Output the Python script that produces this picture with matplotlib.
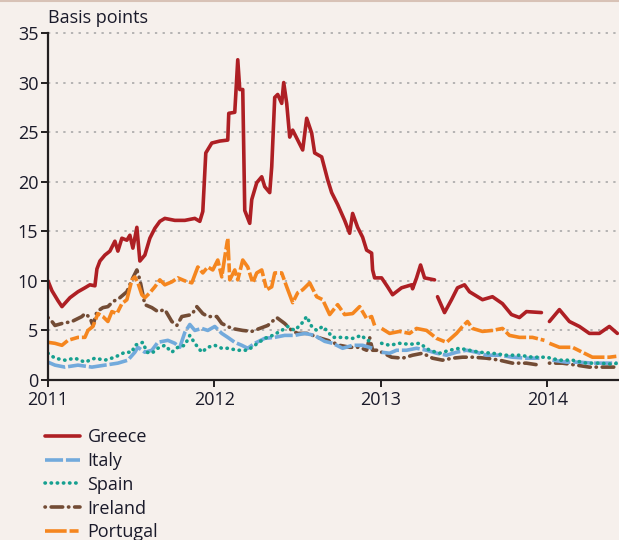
import numpy as np
import matplotlib
matplotlib.use('Agg')
import matplotlib.pyplot as plt
from matplotlib.lines import Line2D

plt.rcParams['font.family'] = ['Open Sans', 'DejaVu Sans']

# years since start of 2011; nan marks a break in the series
base_year = 2011
nan = np.nan

greece_t = [0.000, 0.024, 0.060, 0.084, 0.132, 0.180, 0.222, 0.252, 0.282, 0.294,
            0.312, 0.342, 0.372, 0.402, 0.420, 0.444, 0.474, 0.492, 0.510, 0.534,
            0.552, 0.582, 0.612, 0.642, 0.672, 0.702, 0.762, 0.822, 0.882, 0.912,
            0.930, 0.948, 0.984, 1.032, 1.080, 1.086, 1.122, 1.140, 1.152, 1.170,
            1.182, 1.212, 1.224, 1.254, 1.284, 1.302, 1.332, 1.344, 1.362, 1.380,
            1.404, 1.416, 1.434, 1.452, 1.470, 1.500, 1.530, 1.554, 1.584, 1.602,
            1.644, 1.680, 1.704, 1.740, 1.782, 1.812, 1.830, 1.860, 1.890, 1.914,
            1.944, 1.950, 1.962, 2.004, 2.040, 2.070, 2.124, 2.184, 2.190, 2.214,
            2.238, 2.262, 2.322, 2.330, 2.340, 2.382, 2.424, 2.460, 2.502, 2.532,
            2.610, 2.670, 2.730, 2.784, 2.832, 2.874, 2.964, 2.975, 3.012, 3.072,
            3.132, 3.192, 3.252, 3.312, 3.372, 3.420]
greece = [10.0, 9.0, 8.0, 7.4, 8.3, 8.9, 9.3, 9.6, 9.5, 11.2,
          12.0, 12.6, 13.0, 14.0, 13.0, 14.3, 14.1, 14.6, 13.3, 15.4,
          12.0, 12.6, 14.3, 15.3, 16.0, 16.3, 16.1, 16.1, 16.3, 16.0,
          17.0, 22.9, 23.9, 24.1, 24.2, 26.9, 27.0, 32.3, 29.3, 29.3,
          17.1, 15.8, 18.2, 19.9, 20.5, 19.5, 18.9, 21.5, 28.5, 28.8,
          27.9, 30.0, 27.9, 24.5, 25.2, 24.2, 23.2, 26.4, 24.9, 22.9,
          22.5, 20.2, 18.9, 17.7, 16.1, 14.8, 16.8, 15.4, 14.4, 13.1,
          12.8, 11.1, 10.3, 10.3, 9.4, 8.6, 9.3, 9.6, 9.2, 10.3,
          11.6, 10.3, 10.1, nan, 8.4, 6.8, 8.1, 9.3, 9.6, 8.9,
          8.1, 8.4, 7.7, 6.6, 6.3, 6.9, 6.8, nan, 5.9, 7.1,
          5.9, 5.4, 4.7, 4.7, 5.4, 4.7]

italy_t = [0.000, 0.042, 0.102, 0.180, 0.264, 0.342, 0.420, 0.480, 0.522, 0.540,
           0.582, 0.624, 0.660, 0.720, 0.762, 0.792, 0.822, 0.852, 0.882, 0.924,
           0.960, 1.002, 1.044, 1.080, 1.122, 1.164, 1.200, 1.242, 1.302, 1.362,
           1.422, 1.482, 1.542, 1.602, 1.662, 1.710, 1.770, 1.830, 1.890, 1.950,
           1.975, 2.004, 2.052, 2.094, 2.154, 2.214, 2.274, 2.334, 2.394, 2.454,
           2.514, 2.574, 2.634, 2.712, 2.790, 2.874, 2.952, 2.980, 3.030, 3.114,
           3.192, 3.270, 3.354, 3.420]
italy = [1.8, 1.5, 1.3, 1.5, 1.3, 1.5, 1.7, 2.0, 2.8, 3.3,
         2.8, 3.0, 3.8, 4.0, 3.7, 3.3, 4.8, 5.6, 5.0, 5.2,
         5.0, 5.4, 4.7, 4.3, 3.8, 3.5, 3.2, 3.7, 4.2, 4.3,
         4.5, 4.5, 4.7, 4.5, 3.9, 3.7, 3.2, 3.5, 3.5, 3.2,
         nan, 2.8, 2.7, 3.0, 3.0, 3.2, 3.0, 2.7, 2.5, 2.8,
         3.0, 2.8, 2.5, 2.5, 2.3, 2.2, 2.2, nan, 2.0, 1.8,
         1.8, 1.7, 1.7, 1.7]

spain_t = [0.000, 0.042, 0.102, 0.162, 0.222, 0.282, 0.342, 0.402, 0.462, 0.504,
           0.522, 0.570, 0.594, 0.624, 0.660, 0.702, 0.744, 0.780, 0.822, 0.852,
           0.882, 0.924, 0.960, 1.002, 1.044, 1.080, 1.140, 1.200, 1.242, 1.302,
           1.350, 1.404, 1.440, 1.482, 1.524, 1.554, 1.584, 1.614, 1.650, 1.680,
           1.710, 1.770, 1.830, 1.884, 1.914, 1.950, 1.975, 2.004, 2.052, 2.112,
           2.172, 2.232, 2.292, 2.352, 2.412, 2.472, 2.532, 2.592, 2.670, 2.754,
           2.832, 2.910, 2.994, 3.072, 3.150, 3.234, 3.312, 3.390, 3.420]
spain = [2.7, 2.2, 2.0, 2.2, 1.8, 2.2, 2.0, 2.3, 2.8, 2.8,
         3.5, 3.8, 2.8, 2.7, 3.2, 3.5, 2.8, 3.3, 3.5, 4.5,
         3.7, 2.8, 3.3, 3.5, 3.2, 3.2, 3.0, 3.0, 3.5, 4.2,
         4.5, 5.0, 5.4, 5.0, 5.7, 6.4, 5.4, 5.0, 5.4, 4.9,
         4.3, 4.3, 4.2, 4.5, 4.0, 3.9, nan, 3.7, 3.5, 3.7,
         3.6, 3.7, 3.0, 2.7, 3.0, 3.2, 3.0, 2.8, 2.7, 2.5,
         2.5, 2.3, 2.3, 2.0, 2.0, 1.7, 1.7, 1.6, 1.7]

ireland_t = [0.000, 0.024, 0.042, 0.084, 0.144, 0.204, 0.222, 0.252, 0.270, 0.294,
             0.330, 0.360, 0.390, 0.432, 0.474, 0.504, 0.534, 0.552, 0.582, 0.624,
             0.660, 0.702, 0.744, 0.774, 0.804, 0.864, 0.894, 0.930, 0.960, 1.014,
             1.044, 1.104, 1.170, 1.224, 1.272, 1.320, 1.374, 1.422, 1.464, 1.500,
             1.560, 1.620, 1.680, 1.752, 1.812, 1.872, 1.914, 1.932, 1.950, 1.974,
             1.985, 2.004, 2.064, 2.130, 2.190, 2.250, 2.310, 2.370, 2.430, 2.490,
             2.550, 2.634, 2.712, 2.790, 2.874, 2.952, 2.980, 3.012, 3.090, 3.174,
             3.252, 3.330, 3.420]
ireland = [6.3, 5.9, 5.5, 5.7, 5.9, 6.4, 6.7, 6.3, 5.5, 6.9,
           7.3, 7.4, 7.9, 8.3, 8.9, 10.1, 11.1, 10.1, 7.6, 7.3,
           6.9, 7.1, 5.9, 5.5, 6.4, 6.6, 7.4, 6.7, 6.4, 6.4,
           5.7, 5.2, 5.0, 4.9, 5.2, 5.5, 6.3, 5.7, 5.0, 4.7,
           4.7, 4.3, 4.0, 3.5, 3.3, 3.3, 3.0, 4.3, 3.0, 3.0,
           nan, 2.8, 2.3, 2.2, 2.5, 2.7, 2.2, 2.0, 2.2, 2.3,
           2.3, 2.2, 2.0, 1.7, 1.7, 1.5, nan, 1.7, 1.7, 1.5,
           1.3, 1.3, 1.3]

portugal_t = [0.000, 0.042, 0.084, 0.120, 0.180, 0.222, 0.240, 0.270, 0.300, 0.330,
              0.360, 0.384, 0.414, 0.444, 0.474, 0.504, 0.522, 0.540, 0.564, 0.582,
              0.612, 0.642, 0.672, 0.702, 0.744, 0.780, 0.822, 0.864, 0.900, 0.930,
              0.960, 0.990, 1.020, 1.044, 1.062, 1.080, 1.092, 1.122, 1.140, 1.170,
              1.200, 1.230, 1.254, 1.284, 1.314, 1.344, 1.362, 1.404, 1.434, 1.470,
              1.500, 1.530, 1.572, 1.614, 1.650, 1.692, 1.740, 1.782, 1.830, 1.872,
              1.914, 1.944, 1.962, 1.975, 2.004, 2.052, 2.112, 2.172, 2.214, 2.274,
              2.334, 2.394, 2.454, 2.490, 2.520, 2.550, 2.610, 2.670, 2.730, 2.772,
              2.832, 2.910, 2.982, 2.990, 3.012, 3.072, 3.150, 3.210, 3.270, 3.330,
              3.372, 3.420]
portugal = [3.8, 3.7, 3.5, 4.0, 4.3, 4.3, 5.0, 5.4, 6.7, 6.4,
            5.9, 6.9, 6.7, 7.7, 8.1, 10.1, 10.4, 9.8, 8.6, 8.3,
            8.8, 9.4, 10.1, 9.6, 9.9, 10.3, 10.0, 9.8, 11.4, 10.8,
            11.4, 11.1, 12.1, 10.4, 12.4, 14.3, 10.1, 11.1, 10.1, 12.1,
            11.4, 9.8, 10.8, 11.1, 9.1, 9.4, 10.8, 10.8, 9.4, 7.8,
            8.8, 9.1, 9.8, 8.4, 8.1, 6.6, 7.6, 6.6, 6.7, 7.4,
            6.2, 6.4, 5.5, nan, 5.2, 4.7, 4.9, 4.7, 5.2, 5.0,
            4.2, 3.8, 4.7, 5.4, 5.9, 5.2, 4.9, 5.0, 5.2, 4.5,
            4.3, 4.3, 4.0, nan, 3.7, 3.3, 3.3, 2.8, 2.3, 2.3,
            2.3, 2.4]

labels = ['Greece', 'Italy', 'Spain', 'Ireland', 'Portugal']
year_ticks = [2011, 2012, 2013, 2014]
y_ticks = [0, 5, 10, 15, 20, 25, 30, 35]

bg = '#F6F0EC'
txt_color = '#1A1A2A'
fig = plt.figure(figsize=(6.19, 5.40), dpi=100, facecolor=bg)
ax = fig.add_axes([0.0775, 0.2963, 0.9225, 0.6426])
ax.set_facecolor(bg)

def yrs(t):
    return [base_year + v for v in t]

styles = [
    dict(color='#AE1F24', lw=2.6, ls='-'),
    dict(color='#72AADC', lw=2.6, ls=(0, (5, 0.8))),
    dict(color='#16A090', lw=2.6, ls=(0, (0.1, 1.6)), dash_capstyle='round'),
    dict(color='#734C35', lw=2.6, ls=(0, (0.1, 1.6, 3.2, 1.6)), dash_capstyle='round'),
    dict(color='#F5861F', lw=2.6, ls=(0, (6, 0.8, 2.5, 0.8))),
]
series = [(greece_t, greece), (italy_t, italy), (spain_t, spain),
          (ireland_t, ireland), (portugal_t, portugal)]
# draw back to front roughly as in the original
order = [3, 1, 2, 4, 0]
lines = {}
for i in order:
    t, v = series[i]
    ln, = ax.plot(yrs(t), v, label=labels[i], solid_capstyle='round',
                  solid_joinstyle='round', **styles[i])
    lines[i] = ln

ax.set_xlim(2011, 2011 + 3.43)
ax.set_ylim(0, 35)
ax.set_yticks(y_ticks)
ax.set_xticks(year_ticks)
ax.set_xticklabels([str(y) for y in year_ticks])
for y in y_ticks[1:]:
    ax.axhline(y, color='#A3A3A3', lw=1.1, ls=(0, (1.5, 3.5)), zorder=0, clip_on=False)

for s in ['top', 'right']:
    ax.spines[s].set_visible(False)
for s in ['left', 'bottom']:
    ax.spines[s].set_color('#231F20')
    ax.spines[s].set_linewidth(1.6)
ax.tick_params(axis='both', direction='out', length=5, width=1.4, color='#231F20',
               labelsize=13, labelcolor=txt_color)
ax.tick_params(axis='y', pad=2)
ax.tick_params(axis='x', pad=3)

fig.text(0.0775, 0.967, 'Basis points', fontsize=13, color=txt_color, va='center', ha='left')

# thin border line at the very top
fig.add_artist(Line2D([0, 1], [0.999, 0.999], transform=fig.transFigure,
                      color='#D8C2B6', lw=1.5))

handles = [lines[i] for i in range(5)]
leg = fig.legend(handles, labels, loc='upper left', bbox_to_anchor=(0.0727, 0.207),
                 frameon=False, fontsize=13, handlelength=1.95, handletextpad=0.4,
                 labelspacing=0.32, borderpad=0, borderaxespad=0)
for txt in leg.get_texts():
    txt.set_color(txt_color)

fig.savefig('out.png', dpi=100, facecolor=bg)
